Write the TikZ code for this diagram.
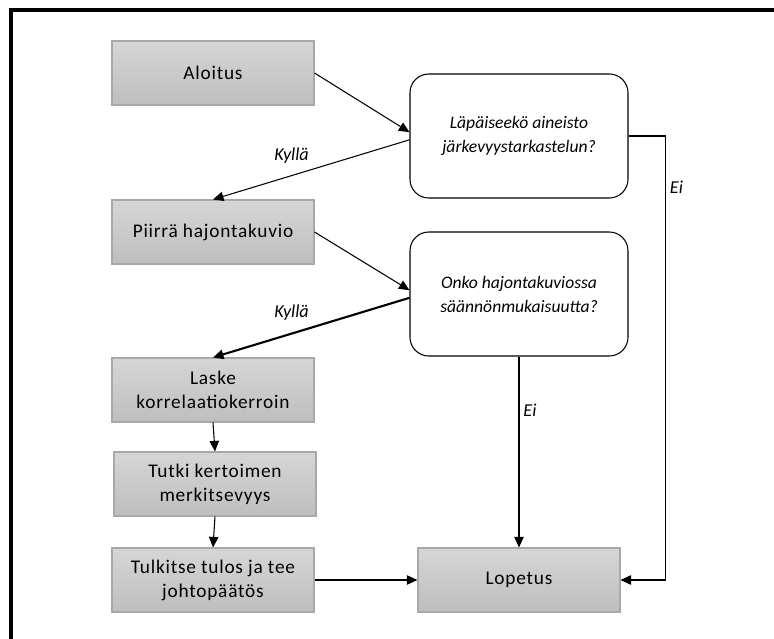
\documentclass[tikz,border=0pt]{standalone}
\usepackage{fontspec}
\setmainfont{Carlito}
\usepackage{tikz}
\usetikzlibrary{arrows.meta,backgrounds}

\definecolor{boxtop}{HTML}{D6D6D6}
\definecolor{boxbot}{HTML}{BEBEBE}
\definecolor{boxline}{HTML}{A8A8A8}

\begin{document}
\begin{tikzpicture}[x=0.03cm,y=-0.03cm,semithick]
        \tikzstyle{worknode}=[
            rectangle,
            draw=boxline,
            line width=0.9pt,
            top color=boxtop,
            bottom color=boxbot,
            minimum width=6.06cm,
            minimum height=1.92cm,
            align=center,
            font=\fontsize{16.5}{20.5}\selectfont\addfontfeatures{LetterSpace=4}
        ]
        \tikzstyle{asknode}=[
            rectangle,
            rounded corners=16pt,
            draw=black,
            line width=0.9pt,
            fill=white,
            minimum width=6.54cm,
            minimum height=3.72cm,
            align=center,
            font=\fontsize{15}{20.5}\selectfont\itshape
        ]
        \tikzstyle{answer}=[font=\fontsize{15.5}{18}\selectfont\itshape]

        \useasboundingbox (0,0) rectangle (774,639);
        \draw[line width=2.6pt] (11,10) rectangle (800,680);

        \node[worknode] (start) at (213,73) {Aloitus};
        \node[worknode] (plot) at (213,232) {Piirrä hajontakuvio};
        \node[worknode] (calc) at (213,390) {Laske\\korrelaatiokerroin};
        \node[worknode] (test) at (215,484) {Tutki kertoimen\\merkitsevyys};
        \node[worknode] (concl) at (213,580) {Tulkitse tulos ja tee\\johtopäätös};
        \node[worknode] (stop) at (519,580) {Lopetus};
        \node[asknode] (check) at (519,136) {Läpäiseekö aineisto\\järkevyystarkastelun?};
        \node[asknode] (pattern) at (519,294) {Onko hajontakuviossa\\säännönmukaisuutta?};

        \draw[-{Triangle[length=9pt,width=8pt]}, line width=0.9pt] (start.east) -- (check.178);
        \draw[-{Triangle[length=9pt,width=8pt]}, line width=0.9pt] (check.182) -- node[answer, pos=0.6, above=7pt]{Kyllä} (plot.north);
        \draw[-{Triangle[length=9pt,width=8pt]}, line width=0.9pt] (check.east) -- ++(37,0) |- node[answer, pos=0.058, right]{Ei} (stop.east);
        \draw[-{Triangle[length=9pt,width=8pt]}, line width=0.9pt] (plot.east) -- (pattern.178);
        \draw[-{Triangle[length=9pt,width=8pt]}, line width=1.8pt] (pattern.182) -- node[answer, pos=0.6, above=7pt]{Kyllä} (calc.north);
        \draw[-{Triangle[length=9pt,width=8pt]}, line width=0.9pt] (pattern.south) -- node[answer, pos=0.28, right]{Ei} (stop.north);
        \draw[-{Triangle[length=9pt,width=8pt]}, line width=0.9pt] (calc.south) -- (test.north);
        \draw[-{Triangle[length=9pt,width=8pt]}, line width=0.9pt] (test.south) -- (concl.north);
        \draw[-{Triangle[length=9pt,width=8pt]}, line width=0.9pt] (concl.east) -- (stop.west);

    \end{tikzpicture}
\end{document}
